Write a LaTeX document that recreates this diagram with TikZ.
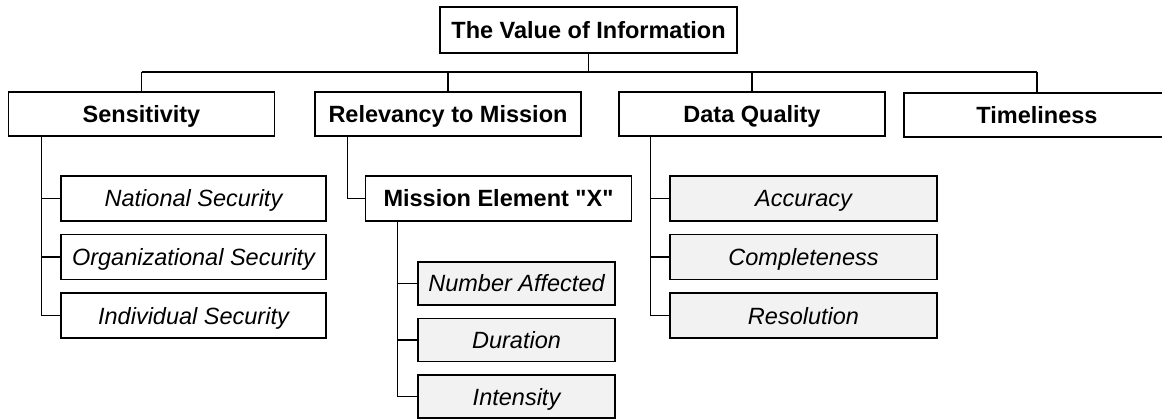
\documentclass[tikz,border=0pt]{standalone}
\usepackage{fontspec}
\setmainfont{Liberation Sans}
\usetikzlibrary{positioning, calc}

\begin{document}
\begin{tikzpicture}[
    x=1pt, y=-1pt,
    node distance=12pt,
    topic/.style={rectangle, draw, line width=1.6pt, align=center, font=\fontsize{23.5}{26}\selectfont\bfseries, minimum width=266pt, minimum height=44pt, inner sep=0pt, text height=17pt, text depth=0pt},
    factor/.style={rectangle, draw, line width=1.6pt, align=center, font=\fontsize{23.5}{26}\selectfont\itshape, minimum width=265pt, minimum height=45pt, inner sep=0pt, text height=17pt, text depth=0pt},
    grainy/.style={fill=black!5},
    effect/.style={factor, grainy, minimum width=197pt, minimum height=43pt},
    link/.style={line width=1.2pt}
]
    \useasboundingbox (0,0) rectangle (1162,419);

    % Root and the four criteria
    \node[topic, minimum width=297pt, minimum height=46pt] (val) at (588.5,30) {The Value of Information};
    \node[topic] (sens) at (141.5,114) {Sensitivity};
    \node[topic] (rel) at (448,114) {Relevancy to Mission};
    \node[topic] (dq) at (752,114) {Data Quality};
    \node[topic] (time) at (1037,115) {Timeliness};

    % Sensitivity levels
    \node[factor] (nat) at (193.5,198.5) {National Security};
    \node[factor, below=of nat] (org) {Organizational Security};
    \node[factor, below=of org] (ind) {Individual Security};

    % Mission element and its measures
    \node[topic, minimum height=45pt] (mis) at (498.5,198.5) {Mission Element \textquotedbl X\textquotedbl};
    \node[effect] (num) at (516.5,283.5) {Number Affected};
    \node[effect, below=of num] (dur) {Duration};
    \node[effect, below=of dur] (int) {Intensity};

    % Data quality aspects
    \node[factor, grainy, minimum width=267pt] (acc) at (803.5,198.5) {Accuracy};
    \node[factor, grainy, minimum width=267pt, below=of acc] (comp) {Completeness};
    \node[factor, grainy, minimum width=267pt, below=of comp] (res) {Resolution};

    % Bus from the root
    \coordinate (bus) at (0,72);
    \draw[link] (val.south) -- (val.south |- bus);
    \draw[link] (sens.north |- bus) -- (time.north |- bus);
    \foreach \t in {sens, rel, dq, time}
        \draw[link] (\t.north |- bus) -- (\t.north);

    % Branches
    \coordinate (sensdrop) at ($(sens.south west)+(34,0)$);
    \draw[link] (sensdrop) |- (ind.west);
    \foreach \leaf in {nat, org}
        \draw[link] (sensdrop |- \leaf.west) -- (\leaf.west);

    \draw[link] ($(rel.south west)+(33,0)$) |- (mis.west);

    \coordinate (misdrop) at ($(mis.south west)+(33,0)$);
    \draw[link] (misdrop) |- (int.west);
    \foreach \leaf in {num, dur}
        \draw[link] (misdrop |- \leaf.west) -- (\leaf.west);

    \coordinate (dqdrop) at ($(dq.south west)+(32,0)$);
    \draw[link] (dqdrop) |- (res.west);
    \foreach \leaf in {acc, comp}
        \draw[link] (dqdrop |- \leaf.west) -- (\leaf.west);
\end{tikzpicture}
\end{document}
